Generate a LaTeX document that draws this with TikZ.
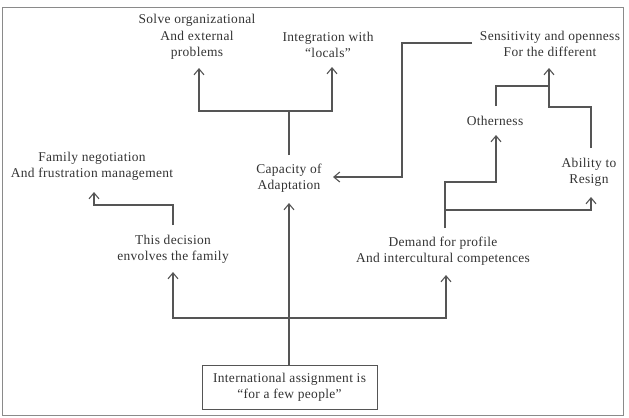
\documentclass[tikz,border=0pt]{standalone}
\usepackage{fontspec}
\setmainfont[LetterSpace=2.5]{Liberation Serif}
\usetikzlibrary{arrows.meta}
\definecolor{linec}{HTML}{555555}
\definecolor{textc}{HTML}{333333}
\definecolor{framec}{HTML}{8A8A8A}
\tikzset{
  txt/.style={text=textc, align=center, inner sep=0pt, font=\fontsize{13.5}{16.5}\selectfont},
  ln/.style={draw=linec, line width=1.1bp},
  arr/.style={draw=linec, line width=1.1bp, -{Straight Barb[length=6bp,width=10bp,line width=1.1bp]}},
  boxc/.style={txt, draw=linec, line width=1bp, minimum width=175bp, minimum height=44bp}
}
\begin{document}
\begin{tikzpicture}[x=1bp,y=-1bp]
\useasboundingbox (0,0) rectangle (629,417);
\draw[framec, line width=1bp] (2,7) rectangle (623,415.5);

% text nodes
\node[txt] (solve) at (197,37) {Solve organizational\\And external\\problems};
\node[txt] (integ) at (328,45) {Integration with\\“locals”};
\node[txt] (sens) at (550,44) {Sensitivity and openness\\For the different};
\node[txt] (family) at (92,166) {Family negotiation\\And frustration management};
\node[txt] (capac) at (289,178) {Capacity of\\Adaptation};
\node[txt] (decision) at (173,249) {This decision\\envolves the family};
\node[txt] (demand) at (443,251) {Demand for profile\\And intercultural competences};
\node[txt] (other) at (495,121) {Otherness};
\node[txt] (ability) at (589,172) {Ability to\\Resign};
\node[boxc] (box) at (289.5,387) {International assignment is\\“for a few people”};

% coordinates
\coordinate (capTop) at (289,155);
\coordinate (capJ) at (289,111);
\coordinate (tSolve) at (199,68);
\coordinate (tInteg) at (332,67);
\coordinate (sensL) at (472,43);
\coordinate (sensJ) at (402,43);
\coordinate (sensJ2) at (402,177);
\coordinate (tCapL) at (333,177);
\coordinate (tCap) at (289,203);
\coordinate (boxJ) at (289,318);
\coordinate (tDec) at (173,272);
\coordinate (tDem) at (446,275);
\coordinate (decTop) at (173,225);
\coordinate (decJ) at (173,205);
\coordinate (tFam) at (94,192);
\coordinate (demTop) at (445,228);
\coordinate (demJ) at (445,210);
\coordinate (demJ2) at (445,182);
\coordinate (tAbil) at (591,197);
\coordinate (tOther) at (496,135);
\coordinate (othTop) at (496,106);
\coordinate (sensJ3) at (549,86);
\coordinate (abilTop) at (591,148);
\coordinate (abilJ) at (549,107);
\coordinate (tSens) at (549,68);

% connectors
\draw[ln] (capTop) -- (capJ);
\draw[arr] (capJ) -| (tSolve);
\draw[arr] (capJ) -| (tInteg);
\draw[arr] (sensL) -- (sensJ) -- (sensJ2) -- (tCapL);
\draw[arr] (box.north -| tCap) -- (tCap);
\draw[arr] (boxJ) -| (tDec);
\draw[arr] (boxJ) -| (tDem);
\draw[arr] (decTop) -- (decJ) -| (tFam);
\draw[ln] (demTop) -- (demJ);
\draw[arr] (demJ) -| (tAbil);
\draw[arr] (demJ) -- (demJ2) -| (tOther);
\draw[ln] (othTop) |- (sensJ3);
\draw[arr] (abilTop) |- (abilJ) -- (tSens);
\end{tikzpicture}
\end{document}
